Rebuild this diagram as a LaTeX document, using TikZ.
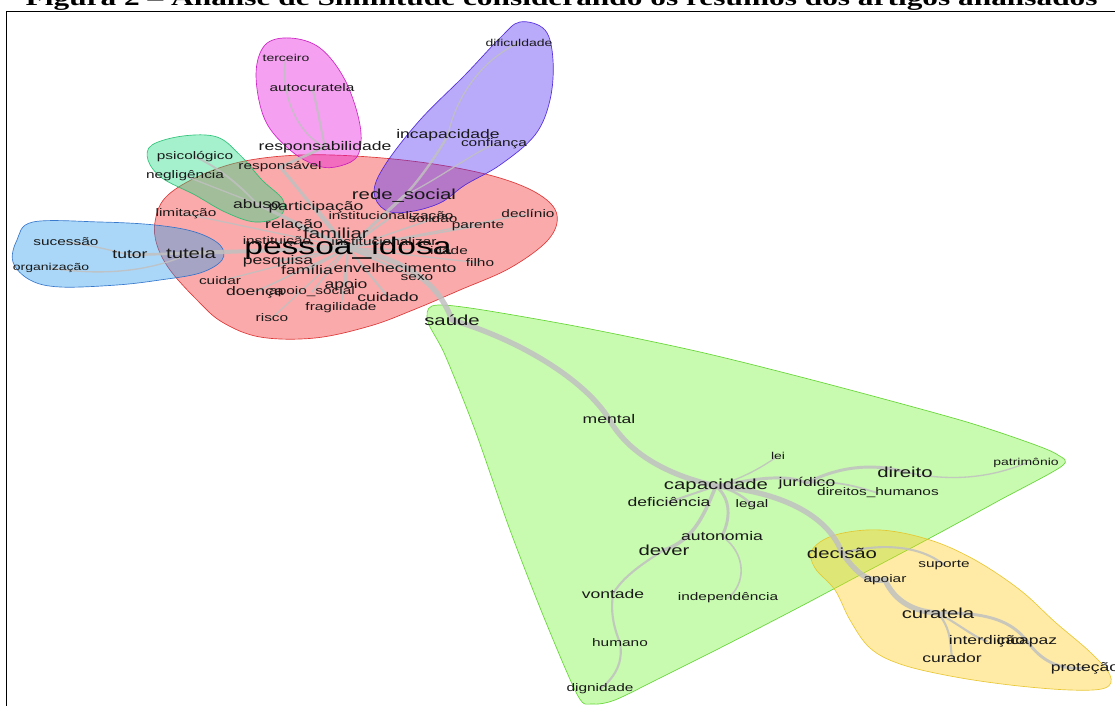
\documentclass[tikz,border=0pt]{standalone}
\usepackage{fontspec}
\newfontfamily\termfont{Liberation Sans}[FakeStretch=1.4]
\newfontfamily\captionfont{Liberation Serif}[FakeStretch=1.4]

\definecolor{linkgray}{RGB}{192,192,192}
\definecolor{haloRed}{RGB}{242,42,42}      \definecolor{haloRedLine}{RGB}{220,40,40}
\definecolor{haloBlue}{RGB}{42,155,237}    \definecolor{haloBlueLine}{RGB}{40,110,200}
\definecolor{haloMint}{RGB}{30,217,130}    \definecolor{haloMintLine}{RGB}{30,190,110}
\definecolor{haloPink}{RGB}{230,17,217}    \definecolor{haloPinkLine}{RGB}{200,20,190}
\definecolor{haloViolet}{RGB}{80,42,242}   \definecolor{haloVioletLine}{RGB}{70,30,220}
\definecolor{haloGreen}{RGB}{117,242,55}   \definecolor{haloGreenLine}{RGB}{90,210,40}
\definecolor{haloYellow}{RGB}{255,205,30}  \definecolor{haloYellowLine}{RGB}{230,195,40}

\tikzstyle{word}   = [inner sep=0pt, text=black!90]
\tikzstyle{hub}    = [word, text=black, font=\termfont\fontsize{18}{20}\selectfont]
\tikzstyle{wordL}  = [word, font=\termfont\fontsize{10.9}{12}\selectfont]
\tikzstyle{wordM}  = [word, font=\termfont\fontsize{9.4}{11}\selectfont]
\tikzstyle{wordS}  = [word, font=\termfont\fontsize{8.25}{10}\selectfont]
\tikzstyle{wordXS} = [word, font=\termfont\fontsize{7.5}{9}\selectfont]
\tikzstyle{link}   = [draw=linkgray, draw opacity=0.85, line cap=round]
\tikzstyle{halo}   = [line width=0.5pt, fill opacity=0.4, draw opacity=0.9]

\pgfdeclarelayer{links}
\pgfdeclarelayer{halos}
\pgfsetlayers{halos,links,main}

\begin{document}
\begin{tikzpicture}[x=0.75pt, y=-0.75pt]
  \useasboundingbox (0,0) rectangle (1115,706);
  \clip (0,0) rectangle (1115,706);

  \node (titulo) [anchor=base west, font=\captionfont\bfseries\fontsize{16.8}{18}\selectfont] at (21,6)
        {Figura 2 – Análise de Similitude considerando os resumos dos artigos analisados};
  \draw[line width=1.2pt] (6.5,706) -- (6.5,11.5) -- (1115,11.5);

  % cluster pessoa_idosa
  \node (pessoa) [hub] at (348,248) {pessoa\_idosa};
  \node (familiar) [wordL] at (336,233) {familiar};
  \node (relacao) [wordM] at (294,225) {relação};
  \node (abuso) [wordM] at (257,204) {abuso};
  \node (particip) [wordM] at (316,207) {participação};
  \node (institucionalizacao) [wordS] at (391,217) {institucionalização};
  \node (solidao) [wordS] at (433,219) {solidão};
  \node (redesocial) [wordL] at (404,196) {rede\_social};
  \node (parente) [wordS] at (478,226) {parente};
  \node (declinio) [wordS] at (528,214) {declínio};
  \node (instituicao) [wordS] at (277,242) {instituição};
  \node (institucionalizar) [wordS] at (384,242) {institucionalizar};
  \node (idade) [wordS] at (449,251) {idade};
  \node (pesquisa) [wordM] at (278,261) {pesquisa};
  \node (familia) [wordM] at (307,270) {família};
  \node (envelhecimento) [wordM] at (395,268) {envelhecimento};
  \node (filho) [wordS] at (480,263) {filho};
  \node (sexo) [wordS] at (417,278) {sexo};
  \node (cuidar) [wordS] at (220,281) {cuidar};
  \node (apoio) [wordM] at (346,285) {apoio};
  \node (doenca) [wordM] at (255,292) {doença};
  \node (apoiosocial) [wordS] at (312,292) {apoio\_social};
  \node (cuidado) [wordM] at (388,297) {cuidado};
  \node (fragilidade) [wordS] at (341,308) {fragilidade};
  \node (risco) [wordS] at (272,318) {risco};
  \node (limitacao) [wordS] at (186,214) {limitação};
  \node (psicologico) [wordS] at (195,157) {psicológico};
  \node (negligencia) [wordS] at (185,176) {negligência};
  \node (responsavel) [wordS] at (280,167) {responsável};
  \node (responsabilidade) [wordM] at (325,147) {responsabilidade};
  \node (terceiro) [wordXS] at (286,58) {terceiro};
  \node (autocuratela) [wordS] at (312,88) {autocuratela};
  \node (dificuldade) [wordXS] at (519,43) {dificuldade};
  \node (incapacidade) [wordM] at (448,135) {incapacidade};
  \node (confianca) [wordS] at (494,144) {confiança};
  \node (sucessao) [wordS] at (66,242) {sucessão};
  \node (organizacao) [wordXS] at (51,268) {organização};
  \node (tutor) [wordM] at (130,255) {tutor};
  \node (tutela) [wordL] at (191,253) {tutela};
  \node (saude) [wordL] at (452,320) {saúde};

  % cluster capacidade
  \node (mental) [wordM] at (609,419) {mental};
  \node (lei) [wordXS] at (778,456) {lei};
  \node (direito) [wordL] at (905,472) {direito};
  \node (patrimonio) [wordXS] at (1026,463) {patrimônio};
  \node (capacidade) [wordL] at (716,486) {capacidade};
  \node (juridico) [wordM] at (807,483) {jurídico};
  \node (direitoshumanos) [wordS] at (878,493) {direitos\_humanos};
  \node (deficiencia) [wordM] at (669,502) {deficiência};
  \node (legal) [wordS] at (752,505) {legal};
  \node (autonomia) [wordM] at (722,536) {autonomia};
  \node (dever) [wordL] at (664,550) {dever};
  \node (vontade) [wordM] at (613,594) {vontade};
  \node (independencia) [wordS] at (728,598) {independência};
  \node (humano) [wordS] at (620,643) {humano};
  \node (dignidade) [wordS] at (600,689) {dignidade};

  % cluster curatela
  \node (decisao) [wordL] at (842,553) {decisão};
  \node (suporte) [wordS] at (944,565) {suporte};
  \node (apoiar) [wordS] at (885,580) {apoiar};
  \node (curatela) [wordL] at (938,613) {curatela};
  \node (interdicao) [wordM] at (987,641) {interdição};
  \node (incapaz) [wordM] at (1027,641) {incapaz};
  \node (curador) [wordM] at (952,658) {curador};
  \node (protecao) [wordM] at (1085,668) {proteção};

  \begin{pgfonlayer}{links}
    % trunk
    \draw[link, line width=4pt] (pessoa.center) .. controls (415,262) and (440,288) .. (saude.center);
    \draw[link, line width=4pt] (saude.center) .. controls (520,340) and (585,380) .. (mental.center);
    \draw[link, line width=4pt] (mental.center) .. controls (632,460) and (680,478) .. (capacidade.center);
    \draw[link, line width=4pt] (capacidade.center) .. controls (790,493) and (830,520) .. (decisao.center);
    \draw[link, line width=4pt] (decisao.center) .. controls (858,575) and (868,582) .. (apoiar.center);
    \draw[link, line width=4pt] (apoiar.center) .. controls (895,602) and (915,612) .. (curatela.center);
    % curatela
    \draw[link, line width=2.2pt] (curatela.center) .. controls (990,612) and (1012,622) .. (incapaz.center);
    \draw[link, line width=2.2pt] (incapaz.center) .. controls (1042,662) and (1060,670) .. (protecao.center);
    \draw[link, line width=1.6pt] (curatela.center) .. controls (960,625) and (975,638) .. (interdicao.center);
    \draw[link, line width=1.6pt] (curatela.center) .. controls (952,630) and (950,645) .. (curador.center);
    \draw[link, line width=1.6pt] (decisao.center) .. controls (880,543) and (920,545) .. (suporte.center);
    % capacidade
    \draw[link, line width=2.2pt] (capacidade.center) .. controls (760,478) and (785,474) .. (juridico.center);
    \draw[link, line width=2.2pt] (juridico.center) .. controls (835,468) and (870,462) .. (direito.center);
    \draw[link, line width=1pt] (direito.center) .. controls (950,482) and (990,478) .. (patrimonio.center);
    \draw[link, line width=1.3pt] (juridico.center) .. controls (840,480) and (860,488) .. (direitoshumanos.center);
    \draw[link, line width=1pt] (capacidade.center) .. controls (745,478) and (765,465) .. (lei.center);
    \draw[link, line width=1.5pt] (capacidade.center) -- (deficiencia.center);
    \draw[link, line width=1.8pt] (capacidade.center) .. controls (735,490) and (745,498) .. (legal.center);
    \draw[link, line width=2.2pt] (capacidade.center) .. controls (732,500) and (730,520) .. (autonomia.center);
    \draw[link, line width=2.6pt] (capacidade.center) .. controls (705,512) and (695,540) .. (dever.center);
    \draw[link, line width=1.2pt] (autonomia.center) .. controls (748,555) and (745,585) .. (independencia.center);
    \draw[link, line width=1.6pt] (dever.center) .. controls (640,565) and (622,578) .. (vontade.center);
    \draw[link, line width=1.6pt] (vontade.center) .. controls (610,615) and (615,630) .. (humano.center);
    \draw[link, line width=1.6pt] (humano.center) .. controls (624,665) and (612,680) .. (dignidade.center);
    % pessoa_idosa
    \draw[link, line width=3pt] (pessoa.center) -- (tutela.center);
    \draw[link, line width=2pt] (tutela.center) -- (tutor.center);
    \draw[link, line width=1pt] (tutor.center) .. controls (110,250) and (90,245) .. (sucessao.center);
    \draw[link, line width=1pt] (tutela.center) .. controls (150,272) and (100,276) .. (organizacao.center);
    \draw[link, line width=2.4pt] (pessoa.center) -- (abuso.center);
    \draw[link, line width=1.4pt] (abuso.center) .. controls (240,185) and (215,165) .. (psicologico.center);
    \draw[link, line width=1pt] (abuso.center) -- (negligencia.center);
    \draw[link, line width=2.4pt] (pessoa.center) .. controls (322,220) and (300,190) .. (responsavel.center);
    \draw[link, line width=2pt] (responsavel.center) -- (responsabilidade.center);
    \draw[link, line width=1.5pt] (responsabilidade.center) .. controls (320,125) and (316,100) .. (autocuratela.center);
    \draw[link, line width=1pt] (responsabilidade.center) .. controls (290,130) and (280,80) .. (terceiro.center);
    \draw[link, line width=2.4pt] (pessoa.center) -- (redesocial.center);
    \draw[link, line width=1.8pt] (redesocial.center) .. controls (420,180) and (440,150) .. (incapacidade.center);
    \draw[link, line width=1pt] (incapacidade.center) .. controls (455,100) and (480,60) .. (dificuldade.center);
    \draw[link, line width=1pt] (redesocial.center) .. controls (440,178) and (470,155) .. (confianca.center);
    \foreach \t/\w in {familiar/2.2, relacao/1.8, particip/1.6, institucionalizacao/1.6, solidao/1.2,
                       parente/1.2, declinio/1, filho/1, sexo/1, envelhecimento/1.8, apoio/1.6,
                       cuidado/1.6, fragilidade/1.2, risco/1, doenca/1.2, apoiosocial/1.2, cuidar/1,
                       pesquisa/1.6, familia/1.6, instituicao/1.2, institucionalizar/1.2, limitacao/1, idade/1}
      \draw[link, line width=\w pt] (pessoa.center) -- (\t.center);
  \end{pgfonlayer}

  \begin{pgfonlayer}{halos}
    \draw[halo, draw=haloRedLine, fill=haloRed] plot[smooth cycle, tension=0.6] coordinates {
      (155,222) (165,198) (195,178) (240,162) (300,155) (370,157) (440,165) (500,178) (540,195)
      (557,215) (548,240) (510,268) (460,290) (413,310) (370,326) (315,338) (260,337) (222,322)
      (197,300) (170,270) (157,245)};
    \draw[halo, draw=haloBlueLine, fill=haloBlue] plot[smooth cycle, tension=0.6] coordinates {
      (33,222) (100,222) (155,225) (195,232) (220,245) (222,260) (200,273) (160,280) (117,285)
      (60,287) (30,280) (13,262) (17,240)};
    \draw[halo, draw=haloMintLine, fill=haloMint] plot[smooth cycle, tension=0.6] coordinates {
      (152,145) (183,136) (217,137) (240,155) (262,180) (283,200) (280,216) (255,222) (225,212)
      (195,195) (162,178) (148,160)};
    \draw[halo, draw=haloPinkLine, fill=haloPink] plot[smooth cycle, tension=0.6] coordinates {
      (290,38) (320,48) (345,80) (360,125) (358,155) (340,166) (318,166) (290,150) (265,120)
      (256,75) (265,45)};
    \draw[halo, draw=haloVioletLine, fill=haloViolet] plot[smooth cycle, tension=0.6] coordinates {
      (520,22) (545,30) (553,60) (550,100) (535,135) (500,165) (465,185) (440,203) (408,212)
      (385,210) (374,192) (385,165) (420,120) (465,75) (500,38)};
    \draw[halo, draw=haloGreenLine, fill=haloGreen] plot[smooth cycle, tension=0.5] coordinates {
      (432,306) (470,308) (580,327) (700,352) (820,382) (960,420) (1030,443) (1058,455) (1062,466)
      (1000,500) (930,538) (860,575) (790,612) (720,648) (660,678) (615,700) (592,704) (578,696)
      (545,620) (510,530) (475,430) (445,355) (428,322)};
    \draw[halo, draw=haloYellowLine, fill=haloYellow] plot[smooth cycle, tension=0.6] coordinates {
      (812,550) (835,535) (880,530) (930,540) (975,560) (1020,590) (1055,622) (1090,652) (1110,675)
      (1105,688) (1070,690) (1010,685) (950,676) (900,664) (870,648) (850,620) (835,590) (815,568)};
  \end{pgfonlayer}
\end{tikzpicture}
\end{document}
